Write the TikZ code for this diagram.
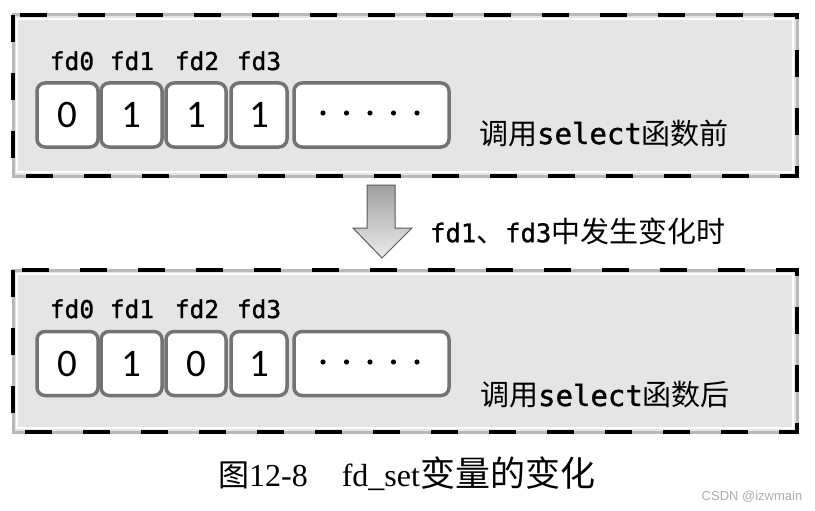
\documentclass[tikz,border=0pt]{standalone}
\usepackage{fontspec}
\setmainfont{Liberation Serif}
\newfontfamily\cjk{Noto Sans CJK SC}
\newfontfamily\monof[FakeBold=1.2]{DejaVu Sans Mono}
\newfontfamily\valf{Carlito}
\newfontfamily\wmf{Liberation Sans}
\begin{document}
\begin{tikzpicture}[x=1pt,y=-1pt,
  panel/.style={fill=gray!20},
  cellbox/.style={draw=black!55, line width=3.5pt, fill=white, rounded corners=8pt, minimum height=64pt, inner sep=0pt, font=\valf\fontsize{39}{39}\selectfont},
  fdlabel/.style={anchor=base, inner sep=0pt, font=\monof\fontsize{24.5}{24.5}\selectfont},
  sidelabel/.style={inner sep=0pt, font=\fontsize{29}{29}\selectfont},
  dotmark/.style={fill=black, draw=none}
]
\useasboundingbox (0,0) rectangle (815,511);

% ---------- panels ----------
\foreach \yt/\yb/\nm in {15/176/ptop, 270/432/pbot}{
  \fill[panel] (13,\yt) rectangle (797,\yb);
  \draw[white, line width=1.5pt] (17,\yt+4) rectangle (793,\yb-4);
  \draw[gray!55, line width=3pt] (13,\yt) rectangle (797,\yb);
  \draw[black, line width=4pt, dash pattern=on 27pt off 31pt] (13,\yt) rectangle (797,\yb);
  \coordinate (\nm) at (405,\yt);
}

% ---------- top row ----------
\node[cellbox, minimum width=61pt] (a0) at (67.5,115) {0};
\node[cellbox, minimum width=61pt] (a1) at (131.5,115) {1};
\node[cellbox, minimum width=60pt] (a2) at (196,115) {1};
\node[cellbox, minimum width=56pt] (a3) at (259,115) {1};
\node[cellbox, minimum width=155pt] (a4) at (371.5,115) {};
\foreach \x in {323,346.5,370,393.5,417}{\fill[dotmark] (\x,113) circle (2.6pt);}
\node[fdlabel] (la0) at (72,70) {fd0};
\node[fdlabel] (la1) at (132,70) {fd1};
\node[fdlabel] (la2) at (197,70) {fd2};
\node[fdlabel] (la3) at (259,70) {fd3};
\node[sidelabel] (sa) at (604,133) {{\cjk 调用}{\monof select}{\cjk 函数前}};

% ---------- arrow ----------
\shade[top color=gray!75, bottom color=gray!15, draw=black!65, line width=1pt]
  (367,185) -- (395,185) -- (395,228) -- (412,228) -- (382,258) -- (353,228) -- (367,228) -- cycle;
\node[inner sep=0pt, anchor=west] (arrtxt) at (430,231)
  {{\monof\fontsize{25.5}{26}\selectfont fd1}{\cjk\fontsize{29}{29}\selectfont 、}{\monof\fontsize{25.5}{26}\selectfont fd3}{\cjk\fontsize{29}{29}\selectfont 中发生变化时}};

% ---------- bottom row ----------
\node[cellbox, minimum width=61pt] (b0) at (67.5,363.5) {0};
\node[cellbox, minimum width=61pt] (b1) at (131.5,363.5) {1};
\node[cellbox, minimum width=60pt] (b2) at (196,363.5) {0};
\node[cellbox, minimum width=56pt] (b3) at (259,363.5) {1};
\node[cellbox, minimum width=155pt] (b4) at (371.5,363.5) {};
\foreach \x in {323,346.5,370,393.5,417}{\fill[dotmark] (\x,362) circle (2.6pt);}
\node[fdlabel] (lb0) at (72,318) {fd0};
\node[fdlabel] (lb1) at (132,318) {fd1};
\node[fdlabel] (lb2) at (197,318) {fd2};
\node[fdlabel] (lb3) at (259,318) {fd3};
\node[sidelabel] (sb) at (605,395) {{\cjk 调用}{\monof select}{\cjk 函数后}};

% ---------- caption ----------
\node[inner sep=0pt, anchor=west, font=\fontsize{32}{32}\selectfont] (cap) at (218,474)
  {{\cjk\fontsize{31}{31}\selectfont 图}12-8\hspace{34pt}fd\_set{\cjk\fontsize{35}{35}\selectfont 变量的变化}};
\node[inner sep=0pt, font=\wmf\fontsize{13}{13}\selectfont, text=gray!65] (wm) at (752,497) {CSDN @izwmain};
\end{tikzpicture}
\end{document}
